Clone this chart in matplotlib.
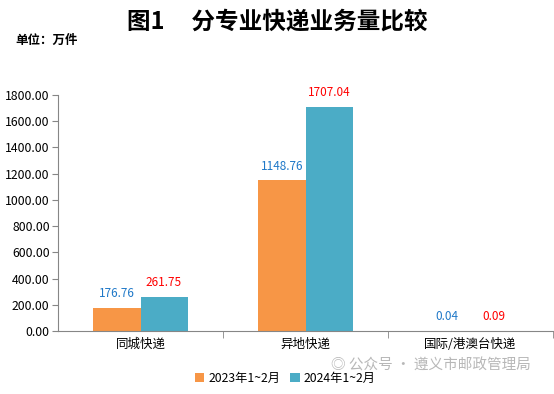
import matplotlib.pyplot as plt
import numpy as np

plt.rcParams['font.family'] = ['Noto Sans CJK SC', 'DejaVu Sans']

categories = ["同城快递", "异地快递", "国际/港澳台快递"]
series_names = ["2023年1~2月", "2024年1~2月"]
values_2023 = [176.76, 1148.76, 0.04]
values_2024 = [261.75, 1707.04, 0.09]
yticks = [0, 200, 400, 600, 800, 1000, 1200, 1400, 1600, 1800]

c23 = "#F79646"
c24 = "#4BACC6"
axis_col = "#868686"

fig = plt.figure(figsize=(5.54, 3.94), dpi=100)
ax = fig.add_axes([58 / 554, 1 - 331 / 394, 495 / 554, 236 / 394])

x = np.arange(len(categories))
w = 0.285
b1 = ax.bar(x - w / 2, values_2023, w, color=c23, label=series_names[0])
b2 = ax.bar(x + w / 2, values_2024, w, color=c24, label=series_names[1])

for rect, v in zip(b1, values_2023):
    ax.text(rect.get_x() + rect.get_width() / 2, v + 60, f"{v:.2f}",
            ha="center", va="bottom", fontsize=8.5, color="#1F78C8")
for rect, v in zip(b2, values_2024):
    ax.text(rect.get_x() + rect.get_width() / 2, v + 60, f"{v:.2f}",
            ha="center", va="bottom", fontsize=8.5, color="#FF0000")

ax.set_xlim(-0.5, 2.5)
ax.set_ylim(0, 1800)
ax.set_yticks(yticks)
ax.set_yticklabels([f"{t:.2f}" for t in yticks], fontsize=8.8)
ax.set_xticks(x)
ax.set_xticklabels(categories, fontsize=9)
ax.set_xticks([0.5, 1.5, 2.5], minor=True)
ax.tick_params(axis="x", which="major", length=0, pad=5)
ax.tick_params(axis="x", which="minor", length=5, color=axis_col, direction="out")
ax.tick_params(axis="y", length=4, color=axis_col, direction="out", pad=2)

for s in ["top", "right"]:
    ax.spines[s].set_visible(False)
for s in ["left", "bottom"]:
    ax.spines[s].set_color(axis_col)

fig.text(0.5, 1 - 22 / 394, "图1     分专业快递业务量比较", ha="center", va="center",
         fontsize=17, fontweight="bold")
fig.text(15 / 554, 1 - 40 / 394, "单位：万件", ha="left", va="center",
         fontsize=9, fontweight="bold")

fig.legend(loc="center", bbox_to_anchor=(285 / 554, 1 - 378 / 394), ncol=2,
           frameon=False, fontsize=8.8, handlelength=0.8, handleheight=0.8,
           handletextpad=0.3, columnspacing=0.8)

fig.text(431 / 554, 1 - 366 / 394, "◎ 公众号 · 遵义市邮政管理局", ha="center", va="center",
         fontsize=10.5, color="#B0B0B0", alpha=0.9)

fig.savefig("out.png", dpi=100)
